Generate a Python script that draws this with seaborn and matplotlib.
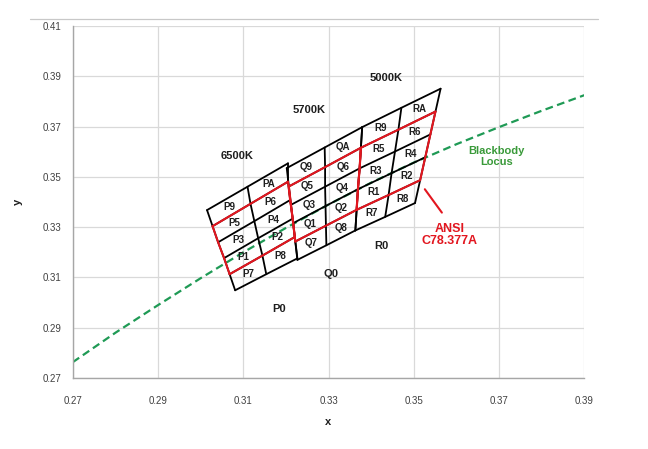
#%% Import
import numpy as np
import matplotlib
matplotlib.use("Agg")
import matplotlib.pyplot as plt
from matplotlib.lines import Line2D
import seaborn as sns

#%% data

# blackbody locus
locus_x = [0.27, 0.28, 0.29, 0.30, 0.31, 0.32, 0.33, 0.34, 0.35, 0.36, 0.37, 0.38, 0.39]
locus_y = [0.2763, 0.2880, 0.2990, 0.3097, 0.3200, 0.3297, 0.3390, 0.3477, 0.3557, 0.3630, 0.3698, 0.3763, 0.3825]

# bin grid per CCT: rows = [left edge, middle, right edge], points top -> bottom
# index 1 and 4 are the ANSI C78.377A quadrangle top / bottom
P_X = [[0.3015, 0.3028, 0.3041, 0.3055, 0.3068, 0.3081],
       [0.3110, 0.3117, 0.3126, 0.3135, 0.3145, 0.3154],
       [0.3205, 0.3205, 0.3210, 0.3216, 0.3221, 0.3227]]
P_Y = [[0.3368, 0.3304, 0.3240, 0.3177, 0.3113, 0.3049],
       [0.3461, 0.3393, 0.3324, 0.3256, 0.3187, 0.3113],
       [0.3554, 0.3481, 0.3408, 0.3334, 0.3261, 0.3176]]

Q_X = [[0.3202, 0.3207, 0.3212, 0.3217, 0.3222, 0.3227],
       [0.3291, 0.3292, 0.3292, 0.3293, 0.3294, 0.3295],
       [0.3379, 0.3376, 0.3373, 0.3369, 0.3366, 0.3363]]
Q_Y = [[0.3535, 0.3462, 0.3389, 0.3316, 0.3243, 0.3170],
       [0.3617, 0.3539, 0.3461, 0.3384, 0.3306, 0.3228],
       [0.3698, 0.3616, 0.3534, 0.3451, 0.3369, 0.3287]]

R_X = [[0.3379, 0.3376, 0.3373, 0.3369, 0.3366, 0.3363],
       [0.3471, 0.3464, 0.3456, 0.3448, 0.3441, 0.3433],
       [0.3563, 0.3551, 0.3539, 0.3527, 0.3515, 0.3503]]
R_Y = [[0.3698, 0.3616, 0.3534, 0.3451, 0.3369, 0.3287],
       [0.3775, 0.3688, 0.3601, 0.3515, 0.3428, 0.3341],
       [0.3851, 0.3760, 0.3669, 0.3578, 0.3487, 0.3396]]

bin_prefix = ["P", "Q", "R"]
left_codes = ["9", "5", "3", "1", "7"]
right_codes = ["A", "6", "4", "2", "8"]

cct_labels = ["6500K", "5700K", "5000K"]
cct_x = [0.3085, 0.3254, 0.3435]
cct_y = [0.3583, 0.3766, 0.3894]

zero_labels = ["P0", "Q0", "R0"]
zero_x = [0.3184, 0.3306, 0.3423]
zero_y = [0.2975, 0.3114, 0.3226]

pointer_x = [0.3526, 0.3566]
pointer_y = [0.3451, 0.3358]

x_ticks = [0.27, 0.29, 0.31, 0.33, 0.35, 0.37, 0.39]
y_ticks = [0.27, 0.29, 0.31, 0.33, 0.35, 0.37, 0.39, 0.41]

#%% style
sns.set_theme(style="whitegrid")
plt.rcParams['font.family'] = ['Liberation Sans', 'DejaVu Sans']

red = "#e2161f"
green = "#1f9a55"
txt = "#1e1e1e"

fig = plt.figure(figsize=(6.48, 4.49), dpi=100)
ax = fig.add_axes([0.1123, 0.1581, 0.7893, 0.7838])

#%% locus
sns.lineplot(x=locus_x, y=locus_y, ax=ax, color=green, lw=1.6,
             linestyle=(0, (3.5, 2)), sort=False, estimator=None, zorder=2)

#%% bins
for (gx, gy), pre in zip([(P_X, P_Y), (Q_X, Q_Y), (R_X, R_Y)], bin_prefix):
    gx = np.array(gx)
    gy = np.array(gy)
    # black grid
    for i in range(gx.shape[1]):
        ax.plot(gx[:, i], gy[:, i], color="black", lw=1.3, zorder=3, solid_capstyle="round")
    for j in range(3):
        ax.plot(gx[j], gy[j], color="black", lw=1.3, zorder=3, solid_capstyle="round")
    # ANSI quadrangle in red
    ax.plot(gx[:, 1], gy[:, 1], color=red, lw=1.5, zorder=4)
    ax.plot(gx[:, 4], gy[:, 4], color=red, lw=1.5, zorder=4)
    ax.plot(gx[0, 1:5], gy[0, 1:5], color=red, lw=1.5, zorder=4)
    ax.plot(gx[2, 1:5], gy[2, 1:5], color=red, lw=1.5, zorder=4)
    # bin names in the cell centres
    for r in range(5):
        for c, codes in enumerate([left_codes, right_codes]):
            cx = gx[c:c + 2, r:r + 2].mean()
            cy = gy[c:c + 2, r:r + 2].mean()
            ax.text(cx, cy, pre + codes[r], ha="center", va="center",
                    fontsize=7, fontweight="bold", color=txt, zorder=5)

for lab, x, y in zip(cct_labels, cct_x, cct_y):
    ax.text(x, y, lab, ha="center", va="center", fontsize=8, fontweight="bold", color=txt)
for lab, x, y in zip(zero_labels, zero_x, zero_y):
    ax.text(x, y, lab, ha="center", va="center", fontsize=8, fontweight="bold", color=txt)

ax.plot(pointer_x, pointer_y, color=red, lw=1.5)
ax.text(0.3585, 0.3269, "ANSI\nC78.377A", ha="center", va="center", fontsize=9,
        fontweight="bold", color=red, linespacing=1.1)
ax.text(0.3695, 0.3580, "Blackbody\nLocus", ha="center", va="center", fontsize=8,
        fontweight="bold", color="#3a9a3a", linespacing=1.1)

#%% axes
ax.set_xlim(0.27, 0.39)
ax.set_ylim(0.27, 0.41)
ax.set_xticks(x_ticks)
ax.set_yticks(y_ticks)
ax.set_xticklabels([f"{v:.2f}" for v in x_ticks])
ax.set_yticklabels([f"{v:.2f}" for v in y_ticks])
ax.tick_params(axis="both", length=0, labelsize=7, labelcolor="#404040")
ax.tick_params(axis="x", pad=13)
ax.tick_params(axis="y", pad=8)
ax.grid(True, color="#d9d9d9", lw=0.9)
for s in ["top", "right"]:
    ax.spines[s].set_visible(False)
for s in ["left", "bottom"]:
    ax.spines[s].set_color("#a6a6a6")
    ax.spines[s].set_linewidth(1.0)
ax.set_xlabel("x", fontsize=8, fontweight="bold", color=txt, labelpad=8)
ax.set_ylabel("y", fontsize=8, fontweight="bold", color=txt, labelpad=14)

# frame line above the plot area
fig.add_artist(Line2D([0.046, 0.923], [0.957, 0.957], color="#c8c8c8", lw=0.9))

fig.savefig("out.png", dpi=100)
